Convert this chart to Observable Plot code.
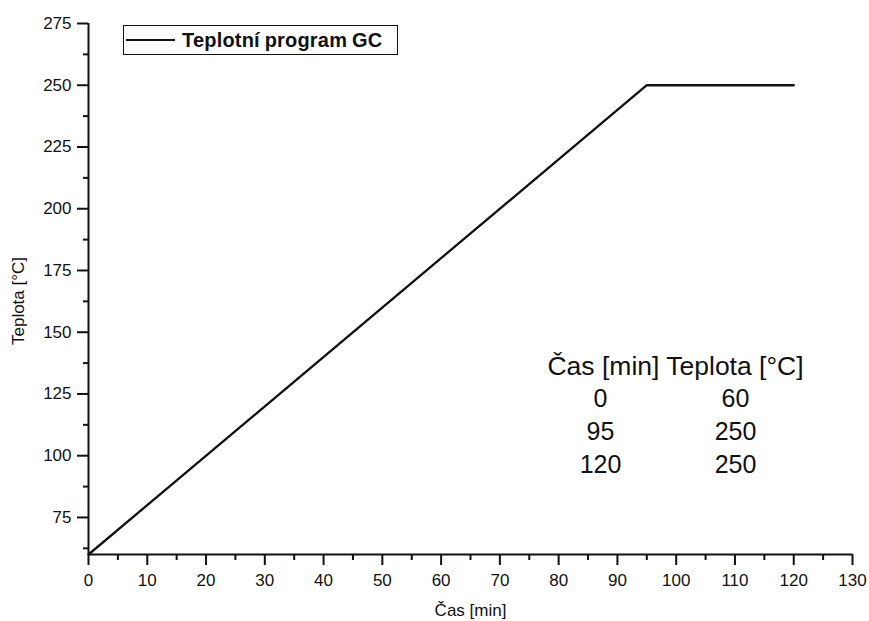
<!DOCTYPE html>
<html>
<head>
<meta charset="utf-8">
<script src="https://cdn.jsdelivr.net/npm/d3@7"></script>
<script src="https://cdn.jsdelivr.net/npm/@observablehq/plot@0.6"></script>
<style>
  html, body { margin: 0; padding: 0; background: #fff; }
  #wrap { position: relative; width: 869px; height: 621px; }
  .legend {
    position: absolute; left: 123px; top: 25px; width: 275px; height: 30px;
    box-sizing: border-box; border: 1.5px solid #111; background: #fff;
    display: flex; align-items: center;
    font: bold 20px "Liberation Sans", Arial, sans-serif; letter-spacing: 0.2px; word-spacing: -1px; color: #111;
  }
  .legend .swatch { width: 49px; height: 2px; background: #111; margin-left: 2px; margin-right: 7px; flex: none; }
</style>
</head>
<body>
<div id="wrap"></div>
<script>
// Data
const times = [0, 95, 120];
const temps = [60, 250, 250];
const seriesName = "Teplotní program GC";
const xTicks = d3.range(0, 131, 10);
const xMinor = d3.range(5, 130, 10);
const yTicks = d3.range(75, 276, 25);
const yMinor = d3.range(62.5, 275, 25);
const xLabel = "Čas [min]";
const yLabel = "Teplota [°C]";
const tableHeader = "Čas [min] Teplota [°C]";

const rows = times.map((t, i) => ({t, v: temps[i]}));
const col1 = times.map(String).join("\n");
const col2 = temps.map(String).join("\n");

const ink = "#111";

const chart = Plot.plot({
  width: 869,
  height: 621,
  marginLeft: 88,
  marginRight: 17,
  marginTop: 23,
  marginBottom: 67,
  x: {domain: [0, 130]},
  y: {domain: [60, 275]},
  style: {fontFamily: '"Liberation Sans", Arial, sans-serif', color: ink, background: "white"},
  marks: [
    Plot.axisX({ticks: xTicks, tickSize: 11, tickPadding: 8, fontSize: 17, label: null, strokeWidth: 2}),
    Plot.axisX({ticks: xMinor, tickSize: 6, tickFormat: () => "", label: null, strokeWidth: 2}),
    Plot.axisY({ticks: yTicks, tickSize: 11, tickPadding: 6, fontSize: 17, label: null, strokeWidth: 2}),
    Plot.axisY({ticks: yMinor, tickSize: 5, tickFormat: () => "", label: null, strokeWidth: 2}),
    Plot.ruleX([0], {stroke: ink, strokeWidth: 2}),
    Plot.ruleY([60], {stroke: ink, strokeWidth: 2}),
    Plot.line(rows, {x: "t", y: "v", stroke: ink, strokeWidth: 2.3}),
    Plot.text([tableHeader], {text: d => d, frameAnchor: "top-left", dx: 587, dy: 333, fontSize: 26.5, textAnchor: "middle", lineAnchor: "top", fill: ink}),
    Plot.text([col1], {text: d => d, frameAnchor: "top-left", dx: 512, dy: 360, fontSize: 25, lineHeight: 1.32, textAnchor: "middle", lineAnchor: "top", fill: ink}),
    Plot.text([col2], {text: d => d, frameAnchor: "top-left", dx: 647, dy: 360, fontSize: 25, lineHeight: 1.32, textAnchor: "middle", lineAnchor: "top", fill: ink}),
    Plot.text([xLabel], {text: d => d, frameAnchor: "bottom", dy: 56, lineAnchor: "middle", fontSize: 17, fill: ink}),
    Plot.text([yLabel], {text: d => d, frameAnchor: "left", dx: -70, dy: 12, rotate: -90, lineAnchor: "middle", textAnchor: "middle", fontSize: 17, fill: ink})
  ]
});

const wrap = document.getElementById("wrap");
wrap.appendChild(chart);
const legend = document.createElement("div");
legend.className = "legend";
const sw = document.createElement("span");
sw.className = "swatch";
legend.appendChild(sw);
legend.appendChild(document.createTextNode(seriesName));
wrap.appendChild(legend);
</script>
</body>
</html>
